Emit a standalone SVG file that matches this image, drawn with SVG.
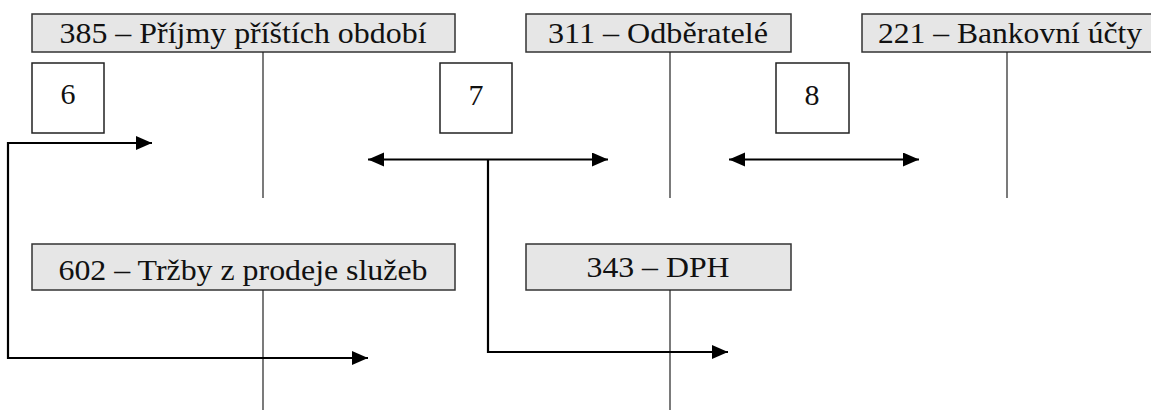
<svg xmlns="http://www.w3.org/2000/svg" width="1151" height="412" viewBox="0 0 1151 412">
<defs>
<style>
.acct{fill:#e6e6e6;stroke:#333;stroke-width:1.5}
.num{fill:#fff;stroke:#222;stroke-width:1.5}
.t{font-family:'Liberation Serif',serif;font-size:30px;fill:#111;text-anchor:middle}
.axis{stroke:#222;stroke-width:1.2;fill:none}
.arr{stroke:#000;stroke-width:2.2;fill:none}
</style>
<marker id="ah" markerUnits="userSpaceOnUse" markerWidth="18" markerHeight="16" refX="16" refY="7" orient="auto-start-reverse">
<path d="M0,0 L16,7 L0,14 Z" fill="#000"/>
</marker>
</defs>
<rect width="1151" height="412" fill="#fff"/>
<g id="acc385">
<rect class="acct" x="32" y="14" width="423" height="38"/>
<text class="t" x="243" y="43" textLength="367" lengthAdjust="spacingAndGlyphs">385 – Příjmy příštích období</text>
<line class="axis" x1="263" y1="52" x2="263" y2="198"/>
</g>
<g id="acc311">
<rect class="acct" x="526" y="14" width="265" height="38"/>
<text class="t" x="658" y="43" textLength="220" lengthAdjust="spacingAndGlyphs">311 – Odběratelé</text>
<line class="axis" x1="670" y1="52" x2="670" y2="198"/>
</g>
<g id="acc221">
<rect class="acct" x="862" y="14" width="292" height="38"/>
<text class="t" x="1010" y="43" textLength="264" lengthAdjust="spacingAndGlyphs">221 – Bankovní účty</text>
<line class="axis" x1="1007" y1="52" x2="1007" y2="198"/>
</g>
<g id="acc602">
<rect class="acct" x="32" y="244" width="423" height="46"/>
<text class="t" x="243" y="280" textLength="369" lengthAdjust="spacingAndGlyphs">602 – Tržby z prodeje služeb</text>
<line class="axis" x1="263" y1="290" x2="263" y2="410"/>
</g>
<g id="acc343">
<rect class="acct" x="526" y="244" width="265" height="46"/>
<text class="t" x="658" y="277" textLength="143" lengthAdjust="spacingAndGlyphs">343 – DPH</text>
<line class="axis" x1="670" y1="290" x2="670" y2="410"/>
</g>
<g id="op6">
<rect class="num" x="32" y="63" width="72" height="70"/>
<text class="t" x="68" y="104">6</text>
</g>
<g id="op7">
<rect class="num" x="440" y="63" width="72" height="70"/>
<text class="t" x="476" y="105">7</text>
</g>
<g id="op8">
<rect class="num" x="776" y="63" width="73" height="70"/>
<text class="t" x="812" y="105">8</text>
</g>
<g id="connectors">
<path class="arr" d="M152,143 L8,143 L8,358 L368,358" marker-start="url(#ah)" marker-end="url(#ah)"/>
<line class="arr" x1="368" y1="159.5" x2="608" y2="159.5" marker-start="url(#ah)" marker-end="url(#ah)"/>
<path class="arr" d="M488,159.5 L488,352 L728,352" marker-end="url(#ah)"/>
<line class="arr" x1="729" y1="159.5" x2="919" y2="159.5" marker-start="url(#ah)" marker-end="url(#ah)"/>
</g>
</svg>
